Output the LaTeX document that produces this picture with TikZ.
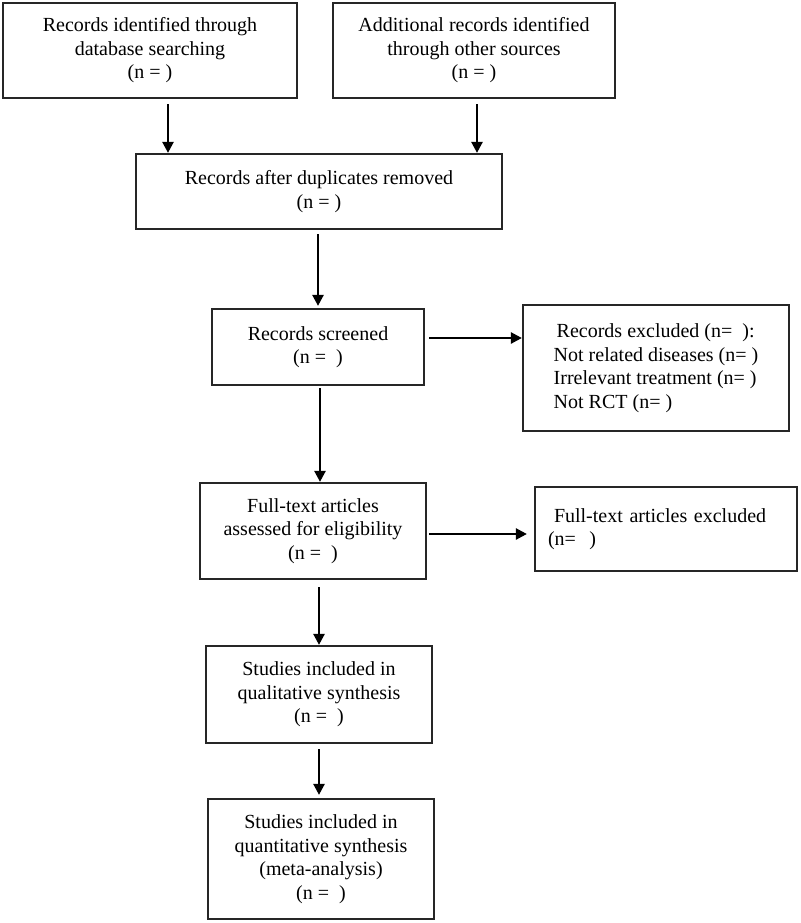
\documentclass[tikz,border=0pt]{standalone}
\usepackage{fontspec}
\setmainfont{Liberation Serif}
\usetikzlibrary{arrows.meta,calc}
\begin{document}
\begin{tikzpicture}[x=1pt,y=-1pt,
  box/.style={draw=black!85,line width=2.2pt,rectangle,inner sep=0pt,align=center,
    font=\fontsize{20}{23.5}\selectfont},
  arr/.style={line width=2.4pt,-{Triangle[length=11pt,width=11pt]}}]
\fill[white] (0,0) rectangle (800,923);
\useasboundingbox (0,0) rectangle (800,923);

\node[box,minimum width=294pt,minimum height=95pt] (A) at (150,50.5)
  {Records identified through\\database searching\\(n = )};
\node[box,minimum width=282pt,minimum height=95pt] (B) at (474,50.5)
  {Additional records identified\\through other sources\\(n = )};
\node[box,minimum width=366pt,minimum height=75pt] (C) at (319,191.5)
  {Records after duplicates removed\\(n = )};
\node[box,minimum width=212pt,minimum height=76pt] (D) at (318,347)
  {Records screened\\(n = \ )};
\node[box,align=left,minimum width=266pt,minimum height=126pt] (E) at (656,368)
  {\hspace{3pt}Records excluded (n= \ ):\\Not related diseases (n= )\\Irrelevant treatment (n= )\\Not RCT (n= )};
\node[box,minimum width=226pt,minimum height=96pt] (F) at (313,531)
  {Full-text articles\\assessed for eligibility\\(n = \ )};
\node[box,align=left,text width=236pt,inner xsep=13pt,minimum height=84pt] (G) at (666,529)
  {\hspace{6pt}Full-text articles excluded\\(n= \ )};
\node[box,minimum width=226pt,minimum height=97pt] (H) at (319,694.5)
  {Studies included in\\qualitative synthesis\\(n = \ )};
\node[box,minimum width=226pt,minimum height=120pt] (I) at (321,859)
  {Studies included in\\quantitative synthesis\\(meta-analysis)\\(n = \ )};

\coordinate (xa) at (168,0);
\coordinate (xb) at (477,0);
\coordinate (xc) at (318,0);
\coordinate (xd) at (320,0);
\coordinate (xf) at (319,0);
\coordinate (yd) at (0,338);
\coordinate (yf) at (0,534);

\draw[arr,shorten <=5pt] (A.south -| xa) -- (C.north -| xa);
\draw[arr,shorten <=5pt] (B.south -| xb) -- (C.north -| xb);
\draw[arr,shorten <=4pt,shorten >=2pt] (C.south -| xc) -- (D.north -| xc);
\draw[arr,shorten <=4pt] (D.east |- yd) -- (E.west |- yd);
\draw[arr,shorten <=2pt] (D.south -| xd) -- (F.north -| xd);
\draw[arr,shorten <=2pt,shorten >=7pt] (F.east |- yf) -- (G.west |- yf);
\draw[arr,shorten <=7pt] (F.south -| xf) -- (H.north -| xf);
\draw[arr,shorten <=5pt,shorten >=3pt] (H.south -| xf) -- (I.north -| xf);
\end{tikzpicture}
\end{document}
